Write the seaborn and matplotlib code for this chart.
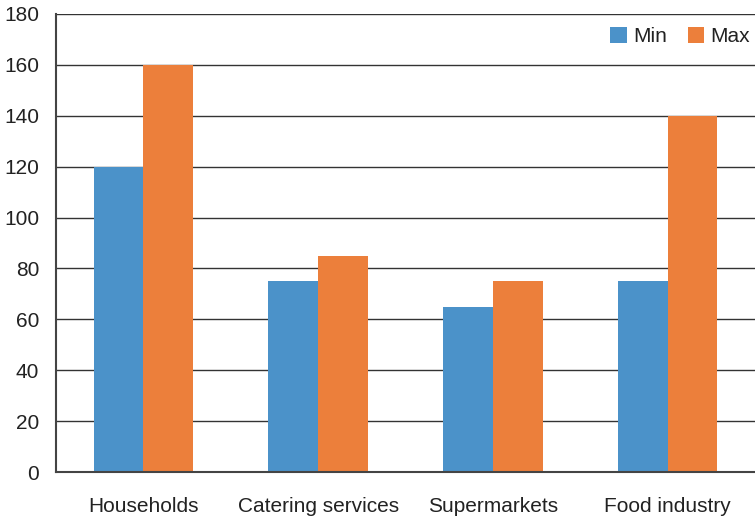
import pandas as pd
import matplotlib.pyplot as plt
import seaborn as sns

# Data
categories = ["Households", "Catering services", "Supermarkets", "Food industry"]
min_values = [120, 75, 65, 75]
max_values = [160, 85, 75, 140]

df = pd.DataFrame({
    "Category": categories * 2,
    "Value": min_values + max_values,
    "Series": ["Min"] * 4 + ["Max"] * 4,
})

sns.set_style("white")
plt.rcParams["font.family"] = ["Liberation Sans", "DejaVu Sans"]

fig = plt.figure(figsize=(7.55, 5.17), dpi=100)
ax = fig.add_axes([0.0742, 0.087, 0.9258, 0.886])

ax.yaxis.grid(True, color="#333333", linewidth=1.0)
ax.set_axisbelow(True)

sns.barplot(
    data=df, x="Category", y="Value", hue="Series",
    palette={"Min": "#4b92c9", "Max": "#ec7f3b"},
    width=0.57, saturation=1, linewidth=0, ax=ax,
)

ax.set_ylim(0, 180)
ax.set_yticks(range(0, 181, 20))
ax.set_xlim(-0.5, 3.5)
ax.set_xlabel("")
ax.set_ylabel("")

# category separators below axis
ax.set_xticks([-0.5, 0.5, 1.5, 2.5], minor=True)
ax.tick_params(axis="x", which="minor", length=7, width=1.2, color="#333333", direction="out")
ax.tick_params(axis="x", which="major", length=0, pad=18, labelsize=15, labelcolor="#222222")
ax.tick_params(axis="y", length=8, width=1.2, color="#333333", direction="out", pad=4,
               labelsize=15, labelcolor="#222222")

for s in ["top", "right"]:
    ax.spines[s].set_visible(False)
for s in ["left", "bottom"]:
    ax.spines[s].set_color("#444444")
    ax.spines[s].set_linewidth(1.5)

leg = ax.legend(
    loc="upper right", bbox_to_anchor=(1.008, 0.995), ncol=2, frameon=False,
    fontsize=15, handlelength=0.8, handleheight=0.8, handletextpad=0.3,
    columnspacing=1.0, borderaxespad=0.1,
)
for t in leg.get_texts():
    t.set_color("#222222")

fig.savefig("out.png", dpi=100)
